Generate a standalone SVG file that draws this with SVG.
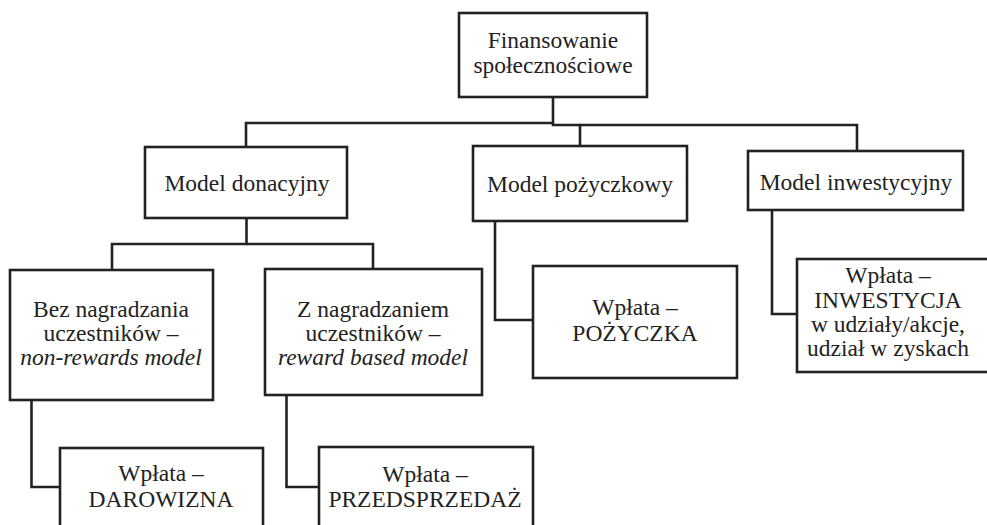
<svg xmlns="http://www.w3.org/2000/svg" width="987" height="525" viewBox="0 0 987 525" font-family="Liberation Serif, DejaVu Serif, serif">
<style>
.box{fill:#fff;stroke:#222;stroke-width:2.6}
.c{fill:none;stroke:#222;stroke-width:2.6;stroke-linejoin:miter}
text{font-size:23.5px;fill:#222;text-anchor:middle}
.i{font-style:italic}
</style>
<rect width="987" height="525" fill="#fff"/>
<g id="connectors">
<path class="c" d="M553,97 V125 H580 V146"/>
<path class="c" d="M246,147 V123 H553"/>
<path class="c" d="M580,125 H857 V151"/>
<path class="c" d="M246.5,218 V244 H112 V270"/>
<path class="c" d="M246.5,244 H373 V269"/>
<path class="c" d="M495,221 V320 H533"/>
<path class="c" d="M772,210 V314 H797"/>
<path class="c" d="M31.5,400 V487 H60"/>
<path class="c" d="M286.5,395 V487 H319"/>
</g>
<g id="root">
<rect class="box" x="459" y="13" width="188" height="84"/>
<text x="553" y="48">Finansowanie</text>
<text x="553" y="73">społecznościowe</text>
</g>
<g id="donacyjny">
<rect class="box" x="145" y="147" width="202" height="71"/>
<text x="247" y="191">Model donacyjny</text>
</g>
<g id="pozyczkowy">
<rect class="box" x="473" y="146" width="214" height="75"/>
<text x="580" y="192">Model pożyczkowy</text>
</g>
<g id="inwestycyjny">
<rect class="box" x="748" y="151" width="215" height="59"/>
<text x="856" y="190">Model inwestycyjny</text>
</g>
<g id="bez">
<rect class="box" x="10" y="270" width="203" height="130"/>
<text x="111" y="317">Bez nagradzania</text>
<text x="111" y="341">uczestników –</text>
<text x="111" y="365" class="i">non-rewards model</text>
</g>
<g id="z">
<rect class="box" x="265" y="269" width="217" height="126"/>
<text x="373" y="317">Z nagradzaniem</text>
<text x="373" y="341">uczestników –</text>
<text x="373" y="365" class="i">reward based model</text>
</g>
<g id="pozyczka">
<rect class="box" x="533" y="266" width="204" height="112"/>
<text x="635" y="315">Wpłata –</text>
<text x="635" y="341">POŻYCZKA</text>
</g>
<g id="inwestycja">
<rect class="box" x="797" y="259" width="195" height="113"/>
<text x="888" y="283">Wpłata –</text>
<text x="888" y="308">INWESTYCJA</text>
<text x="888" y="332">w udziały/akcje,</text>
<text x="888" y="356">udział w zyskach</text>
</g>
<g id="darowizna">
<rect class="box" x="60" y="448" width="203" height="90"/>
<text x="161" y="481">Wpłata –</text>
<text x="161" y="507">DAROWIZNA</text>
</g>
<g id="przedsprzedaz">
<rect class="box" x="319" y="447" width="214" height="90"/>
<text x="425" y="482">Wpłata –</text>
<text x="425" y="507">PRZEDSPRZEDAŻ</text>
</g>
</svg>
